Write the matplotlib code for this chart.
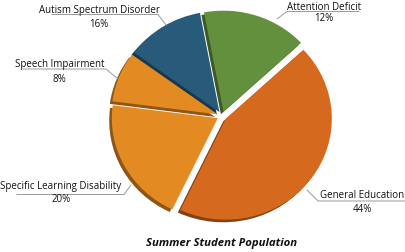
import matplotlib
matplotlib.use('Agg')
import matplotlib.pyplot as plt
import matplotlib.colors as mcolors
from matplotlib.lines import Line2D

# wedge shares as drawn (clockwise from the top-right), and the printed labels
categories = ['General Education', 'Specific Learning Disability', 'Speech Impairment',
              'Autism Spectrum Disorder', 'Attention Deficit']
shares = [44, 20, 8, 12, 16]
pct_labels = ['44%', '20%', '8%', '16%', '12%']
colors = ['#d56a1e', '#e38a23', '#e38a23', '#275b79', '#63903c']
title = 'Summer Student Population'

W, H = 405, 252
fig = plt.figure(figsize=(W / 100, H / 100), dpi=100)
ax = fig.add_axes([0, 0, 1, 1])

# pie centre / radii in pixels (slightly squashed vertically)
cx, cy = 222, 116
rx, ry = 106, 101

shadow = [tuple(c * 0.62 for c in mcolors.to_rgb(col)) for col in colors]
explode = [0.045] * len(shares)

# shadow copy, shifted left and down
ax.pie(shares, explode=explode, colors=shadow, startangle=43, counterclock=False,
       center=(-2.6 / rx, -2.6 / ry), wedgeprops=dict(linewidth=0))
ax.pie(shares, explode=explode, colors=colors, startangle=43, counterclock=False,
       wedgeprops=dict(linewidth=0))

ax.set_aspect('auto')
ax.set_xlim(-cx / rx, (W - cx) / rx)
ax.set_ylim(-(H - cy) / ry, cy / ry)
ax.axis('off')

def px(x, y):
    return x / W, 1 - y / H

font = 'Open Sans'
# label name, (x centre, baseline), pct baseline, leader line points
label_pos = {
    'General Education': (362, 197.5, 211.5, [(307, 190), (318, 201), (405, 201)]),
    'Specific Learning Disability': (61, 189.5, 202.5, [(131, 185), (124, 194.5), (17, 194.5)]),
    'Speech Impairment': (59.5, 66.5, 81.5, [(118, 79), (106, 69), (23, 69)]),
    'Autism Spectrum Disorder': (99, 12.5, 27, [(166, 25), (158, 14.5), (52, 14.5)]),
    'Attention Deficit': (324, 9.5, 21, [(277, 19), (287, 11.5), (359, 11.5)]),
}
for name, pct in zip(categories, pct_labels):
    x, yb, yp, pts = label_pos[name]
    fig.text(*px(x, yb), name, ha='center', va='baseline', fontsize=7,
             family=font, color='#111111')
    fig.text(*px(x, yp), pct, ha='center', va='baseline', fontsize=7,
             family=font, color='#111111')
    xs, ys = zip(*[px(a, b) for a, b in pts])
    fig.add_artist(Line2D(xs, ys, color='#9a9a9a', linewidth=0.7))

fig.text(*px(222, 246), title, ha='center', va='baseline', fontsize=8.2,
         family=font, fontweight='bold', style='italic', color='#111111')

fig.savefig('out.png', dpi=100)
